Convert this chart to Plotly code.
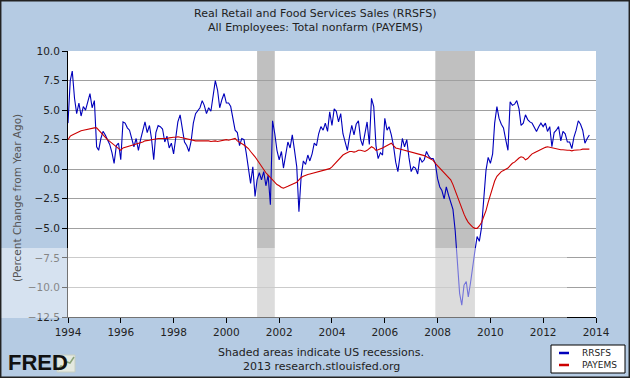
import pandas as pd
import plotly.graph_objects as go

# ---------------- data ----------------
start_month = "1994-01-01"

rrsfs = [
    # 1994
    3.9, 7.5, 8.3, 6.0, 4.7, 5.6, 4.5, 5.3, 5.0, 5.6, 6.4, 5.2,
    # 1995
    5.8, 1.9, 1.6, 2.6, 3.2, 2.9, 2.5, 2.1, 1.4, 0.5, 2.0, 2.2,
    # 1996
    0.8, 4.0, 3.9, 3.5, 3.3, 2.6, 1.9, 2.6, 1.6, 2.5, 3.3, 4.0,
    # 1997
    3.1, 3.7, 2.6, 0.8, 3.1, 3.7, 3.6, 3.4, 2.3, 2.8, 1.8, 2.2,
    # 1998
    1.3, 2.8, 4.0, 4.6, 3.6, 2.3, 2.0, 1.5, 2.4, 3.9, 4.7, 5.0,
    # 1999
    5.2, 5.8, 5.4, 4.7, 5.2, 4.9, 6.2, 7.5, 6.7, 5.2, 5.9, 6.4,
    # 2000
    5.6, 5.6, 5.3, 4.4, 3.3, 3.1, 2.0, 2.6, 2.5, 1.4, 0.2, -1.2,
    # 2001
    0.2, -2.3, -0.9, -0.3, -0.9, -0.2, -1.4, -0.5, -3.0, 4.1, 3.0, 1.6,
    # 2002
    0.8, 1.5, 0.1, 1.2, 2.3, 1.8, 2.9, 1.6, 0.2, -3.6, -0.6, 0.7,
    # 2003
    0.4, 1.2, 0.7, 1.3, 2.2, 2.0, 3.0, 3.6, 3.3, 3.9, 3.2, 4.85,
    # 2004
    3.7, 5.1, 4.9, 4.0, 4.7, 3.0, 2.2, 1.6, 2.8, 3.7, 2.9, 3.8,
    # 2005
    4.1, 2.5, 2.0, 3.2, 4.0, 2.1, 6.0, 5.3, 2.0, 0.9, 1.4, 1.2,
    # 2006
    4.3, 3.3, 3.6, 2.9, 2.0, 0.6, -0.2, 1.2, 2.6, 1.9, 2.5, 1.0,
    # 2007
    -0.2, 0.2, 0.1, -0.4, 1.0, 0.6, 0.8, 1.5, 1.1, 0.9, 0.9, 0.5,
    # 2008
    -0.8, -1.5, -1.8, -2.5, -1.5, -2.2, -2.9, -3.4, -5.2, -8.0, -10.5, -11.5,
    # 2009
    -9.8, -9.5, -10.8, -9.6, -8.0, -6.9, -5.7, -6.1, -4.9, -2.6, -0.1, 1.0,
    # 2010
    0.5, 1.3, 3.9, 5.3, 4.3, 3.8, 3.5, 2.5, 1.6, 5.7, 5.4, 5.5,
    # 2011
    5.8, 5.1, 3.7, 3.9, 4.6, 4.2, 4.0, 3.9, 3.5, 3.2, 3.6, 3.9,
    # 2012
    3.6, 3.9, 3.2, 3.6, 1.9, 3.1, 3.3, 3.6, 2.4, 3.2, 3.0, 2.3,
    # 2013
    2.3, 1.75, 2.7, 3.3, 4.1, 3.8, 3.3, 2.2, 2.6, 2.9,
]

payems = [
    # 1994
    2.5, 2.8, 2.9, 3.0, 3.1, 3.2, 3.25, 3.3, 3.35, 3.4, 3.45, 3.5,
    # 1995
    3.5, 3.5, 3.3, 3.1, 2.9, 2.7, 2.5, 2.35, 2.2, 2.0, 1.85, 1.75,
    # 1996
    1.6, 1.8, 1.85, 1.9, 2.0, 2.05, 2.1, 2.15, 2.2, 2.25, 2.3, 2.4,
    # 1997
    2.4, 2.45, 2.5, 2.5, 2.55, 2.6, 2.6, 2.55, 2.6, 2.6, 2.65, 2.7,
    # 1998
    2.7, 2.7, 2.75, 2.7, 2.65, 2.6, 2.6, 2.55, 2.5, 2.45, 2.4, 2.4,
    # 1999
    2.4, 2.45, 2.4, 2.45, 2.4, 2.35, 2.4, 2.4, 2.35, 2.4, 2.4, 2.45,
    # 2000
    2.5, 2.45, 2.5, 2.55, 2.6, 2.4, 2.3, 2.2, 2.05, 1.9, 1.75, 1.5,
    # 2001
    1.3, 1.05, 0.8, 0.5, 0.25, 0.0, -0.3, -0.5, -0.7, -0.9, -1.1, -1.3,
    # 2002
    -1.4, -1.55, -1.6, -1.55, -1.45, -1.35, -1.25, -1.2, -1.1, -0.9, -0.7, -0.6,
    # 2003
    -0.5, -0.45, -0.4, -0.35, -0.3, -0.3, -0.25, -0.2, -0.15, -0.1, 0.0, 0.05,
    # 2004
    0.2, 0.4, 0.6, 0.8, 1.05, 1.2, 1.3, 1.4, 1.5, 1.5, 1.45, 1.5,
    # 2005
    1.6, 1.6, 1.55, 1.5, 1.6, 1.75, 1.9, 1.8, 1.6, 1.65, 1.7, 1.8,
    # 2006
    1.9, 2.0, 2.1, 2.2, 2.0, 1.8, 1.75, 1.7, 1.65, 1.6, 1.6, 1.55,
    # 2007
    1.5, 1.45, 1.4, 1.35, 1.3, 1.25, 1.15, 1.05, 0.95, 0.85, 0.75, 0.5,
    # 2008
    0.3, 0.1, -0.1, -0.3, -0.5, -0.7, -0.9, -1.3, -1.8, -2.3, -2.9, -3.4,
    # 2009
    -3.8, -4.2, -4.5, -4.7, -4.9, -5.0, -5.0, -4.8, -4.5, -4.0, -3.5, -2.8,
    # 2010
    -2.1, -1.5, -1.0, -0.6, -0.4, -0.2, -0.1, 0.0, 0.1, 0.3, 0.5, 0.6,
    # 2011
    0.8, 0.95, 1.05, 1.0, 0.8, 0.9, 1.1, 1.3, 1.4, 1.5, 1.6, 1.7,
    # 2012
    1.75, 1.85, 1.9, 1.85, 1.8, 1.75, 1.7, 1.65, 1.65, 1.65, 1.6, 1.6,
    # 2013
    1.6, 1.55, 1.6, 1.6, 1.65, 1.65, 1.7, 1.7, 1.7, 1.7,
]

recessions = [("2001-03-01", "2001-11-01"), ("2007-12-01", "2009-06-01")]
tick_years = [1994, 1996, 1998, 2000, 2002, 2004, 2006, 2008, 2010, 2012, 2014]
y_ticks = [-12.5, -10.0, -7.5, -5.0, -2.5, 0.0, 2.5, 5.0, 7.5, 10.0]
series_names = ["RRSFS", "PAYEMS"]
series_colors = ["#0000bb", "#cc0000"]
title_lines = ["Real Retail and Food Services Sales (RRSFS)",
               "All Employees: Total nonfarm (PAYEMS)"]

# ---------------- figure ----------------
dates_r = pd.date_range(start=start_month, periods=len(rrsfs), freq="MS")
dates_p = pd.date_range(start=start_month, periods=len(payems), freq="MS")

FONT = "DejaVu Sans"
BG = "#b5cbe3"
TXT = "#222222"

# plot area in pixels: x 68..596, y 51..317
L, R, T, B = 68, 596, 51, 317


def px(x):
    return (x - L) / (R - L)


def py(y):
    return (B - y) / (B - T)


fig = go.Figure()
fig.add_trace(go.Scatter(x=dates_r, y=rrsfs, mode="lines", name=series_names[0],
                         line=dict(color=series_colors[0], width=1.1)))
fig.add_trace(go.Scatter(x=dates_p, y=payems, mode="lines", name=series_names[1],
                         line=dict(color=series_colors[1], width=1.1)))

shapes = []
for a, b in recessions:
    shapes.append(dict(type="rect", xref="x", yref="paper", x0=a, x1=b, y0=0, y1=1,
                       fillcolor="#c0c0c0", line=dict(width=0), layer="below"))

# faint watermark band seen across the lower part of the picture
shapes.append(dict(type="rect", xref="paper", yref="paper",
                   x0=px(0), x1=px(567), y0=py(318), y1=py(248),
                   fillcolor="rgba(255,255,255,0.45)", line=dict(width=0), layer="above"))

# outer border of the image
shapes.append(dict(type="rect", xref="paper", yref="paper",
                   x0=px(0.7), x1=px(629.3), y0=py(377.3), y1=py(0.7),
                   line=dict(color="#222222", width=1.5), fillcolor="rgba(0,0,0,0)"))

# small FRED logo chart icon
shapes.append(dict(type="rect", xref="paper", yref="paper",
                   x0=px(57), x1=px(75), y0=py(372), y1=py(355),
                   fillcolor="#e4e9e0", line=dict(color="#c8cfc2", width=1)))
icon_pts = [(58, 370), (61, 366), (64, 367), (67, 362), (70, 363), (74, 357)]
path = "M " + " L ".join(f"{px(x)},{py(y)}" for x, y in icon_pts)
shapes.append(dict(type="path", xref="paper", yref="paper", path=path,
                   line=dict(color="#8aa37a", width=1.5)))

# legend box (drawn by hand so it keeps the compact FRED look)
shapes.append(dict(type="rect", xref="paper", yref="paper",
                   x0=px(551), x1=px(625), y0=py(373), y1=py(345),
                   fillcolor="white", line=dict(color="black", width=1)))
legend_rows = [353, 365]
for name, col, yy in zip(series_names, series_colors, legend_rows):
    shapes.append(dict(type="line", xref="paper", yref="paper",
                       x0=px(559), x1=px(569), y0=py(yy), y1=py(yy),
                       line=dict(color=col, width=2.5)))

annotations = [
    dict(text=title_lines[0], x=px(315), xref="paper", y=py(13), yref="paper",
         showarrow=False, font=dict(family=FONT, size=11, color=TXT),
         xanchor="center", yanchor="middle"),
    dict(text=title_lines[1], x=px(315), xref="paper", y=py(28), yref="paper",
         showarrow=False, font=dict(family=FONT, size=11, color=TXT),
         xanchor="center", yanchor="middle"),
    dict(text="Shaded areas indicate US recessions.", x=px(321), xref="paper",
         y=py(352), yref="paper", showarrow=False,
         font=dict(family=FONT, size=11, color=TXT), xanchor="center", yanchor="middle"),
    dict(text="2013 research.stlouisfed.org", x=px(321), xref="paper",
         y=py(366), yref="paper", showarrow=False,
         font=dict(family=FONT, size=11, color=TXT), xanchor="center", yanchor="middle"),
    dict(text="<b>FRED</b>", x=px(6), xref="paper", y=py(362), yref="paper",
         showarrow=False, font=dict(family="Liberation Sans", size=22, color="#111111"),
         xanchor="left", yanchor="middle"),
    dict(text="(Percent Change from Year Ago)", x=px(17), xref="paper", y=py(198), yref="paper",
         textangle=-90, showarrow=False,
         font=dict(family=FONT, size=10.5, color="#555555"), xanchor="center", yanchor="middle"),
]
for name, yy in zip(series_names, legend_rows):
    annotations.append(dict(text=name, x=px(580), xref="paper", y=py(yy), yref="paper",
                            showarrow=False, font=dict(family=FONT, size=9, color=TXT),
                            xanchor="left", yanchor="middle"))

fig.update_layout(
    width=630, height=378,
    margin=dict(l=L, r=630 - R, t=T, b=378 - B, autoexpand=False),
    paper_bgcolor=BG,
    plot_bgcolor="white",
    font=dict(family=FONT, size=10.5, color=TXT),
    showlegend=False,
    shapes=shapes,
    annotations=annotations,
    xaxis=dict(
        type="date",
        range=["1994-01-01", "2014-01-01"],
        tickvals=[f"{y}-01-01" for y in tick_years],
        ticktext=[str(y) for y in tick_years],
        showgrid=False, zeroline=False,
        showline=True, linecolor="black", linewidth=1,
        ticks="outside", ticklen=5, tickcolor="black",
        tickfont=dict(family=FONT, size=10.5, color=TXT),
    ),
    yaxis=dict(
        range=[-12.5, 10.0],
        tickvals=y_ticks,
        tickformat=".1f",
        showgrid=True, gridcolor="#a0a0a0", gridwidth=1,
        zeroline=False,
        showline=True, linecolor="black", linewidth=1,
        ticks="outside", ticklen=5, tickcolor="black",
        tickfont=dict(family=FONT, size=10.5, color=TXT),
    ),
)

fig.write_html(
    "out.html",
    config={"displayModeBar": False},
    post_script="document.body.style.margin='0px';document.body.style.overflow='hidden';",
)
